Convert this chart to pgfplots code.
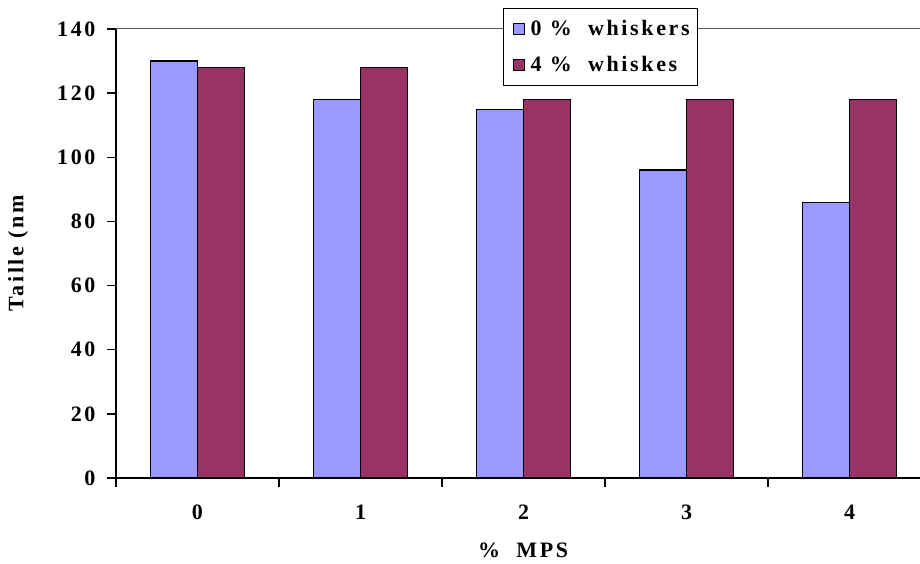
\documentclass[border=0pt]{standalone}
\usepackage{fontspec}
\setmainfont{Liberation Serif}[LetterSpace=12]
\usepackage{pgfplots}
\pgfplotsset{compat=1.18}
\definecolor{cblue}{HTML}{9999FF}
\definecolor{cred}{HTML}{993366}
\newcommand{\ffont}{\fontsize{22}{24}\selectfont\bfseries}
\begin{document}
\begin{tikzpicture}[x=1pt,y=1pt]
\useasboundingbox (-116,-85) rectangle (804,478);
\begin{scope}[overlay]
\clip (-116,-85) rectangle (804,478);
\begin{axis}[
  at={(0,0)}, anchor=south west,
  scale only axis, width=804pt, height=449pt,
  xmin=-0.5, xmax=4.4325, ymin=0, ymax=140,
  axis x line*=bottom, axis y line*=left,
  axis line style={line width=1.6pt, -},
  ybar=0pt, bar width=47pt,
  tick align=outside,
  xtick={0,1,2,3,4},
  major x tick style={draw=none},
  minor xtick={-0.5,0.5,1.5,2.5,3.5},
  minor x tick style={line width=1.4pt, black},
  minor tick length=9pt,
  ytick={0,20,...,140},
  major y tick style={line width=1.4pt, black},
  major tick length=9pt,
  /pgf/number format/assume math mode=true,
  ticklabel style={font=\ffont},
  xticklabel style={yshift=-14pt},
  yticklabel style={xshift=-8pt},
  xlabel={\%~ MPS},
  ylabel={Taille (nm},
  label style={font=\ffont},
  xlabel style={at={(rel axis cs:0.5063,-0.1604)}, anchor=center},
  ylabel style={at={(rel axis cs:-0.1219,0.5)}, anchor=center},
  legend style={at={(rel axis cs:0.4813,1.0468)}, anchor=north west,
    draw=black, line width=1.2pt, fill=white, font=\ffont,
    inner xsep=2pt, inner ysep=10pt, row sep=15pt,
    nodes={inner xsep=6pt}},
  legend cell align=left,
  legend image code/.code={\path (0pt,0pt);\draw[#1, line width=0.8pt] (7pt,-5.5pt) rectangle (18pt,5.5pt);},
]
\draw[gray!70!black, line width=1pt] (rel axis cs:0,1) -- (rel axis cs:1,1);
\addplot[fill=cblue, draw=black, line width=1.3pt] coordinates {(0,130) (1,118) (2,115) (3,96) (4,86)};
\addplot[fill=cred, draw=black, line width=1.3pt] coordinates {(0,128) (1,128) (2,118) (3,118) (4,118)};
\legend{0 \%~ whiskers, 4 \%~ whiskes}
\end{axis}
\end{scope}
\end{tikzpicture}
\end{document}
